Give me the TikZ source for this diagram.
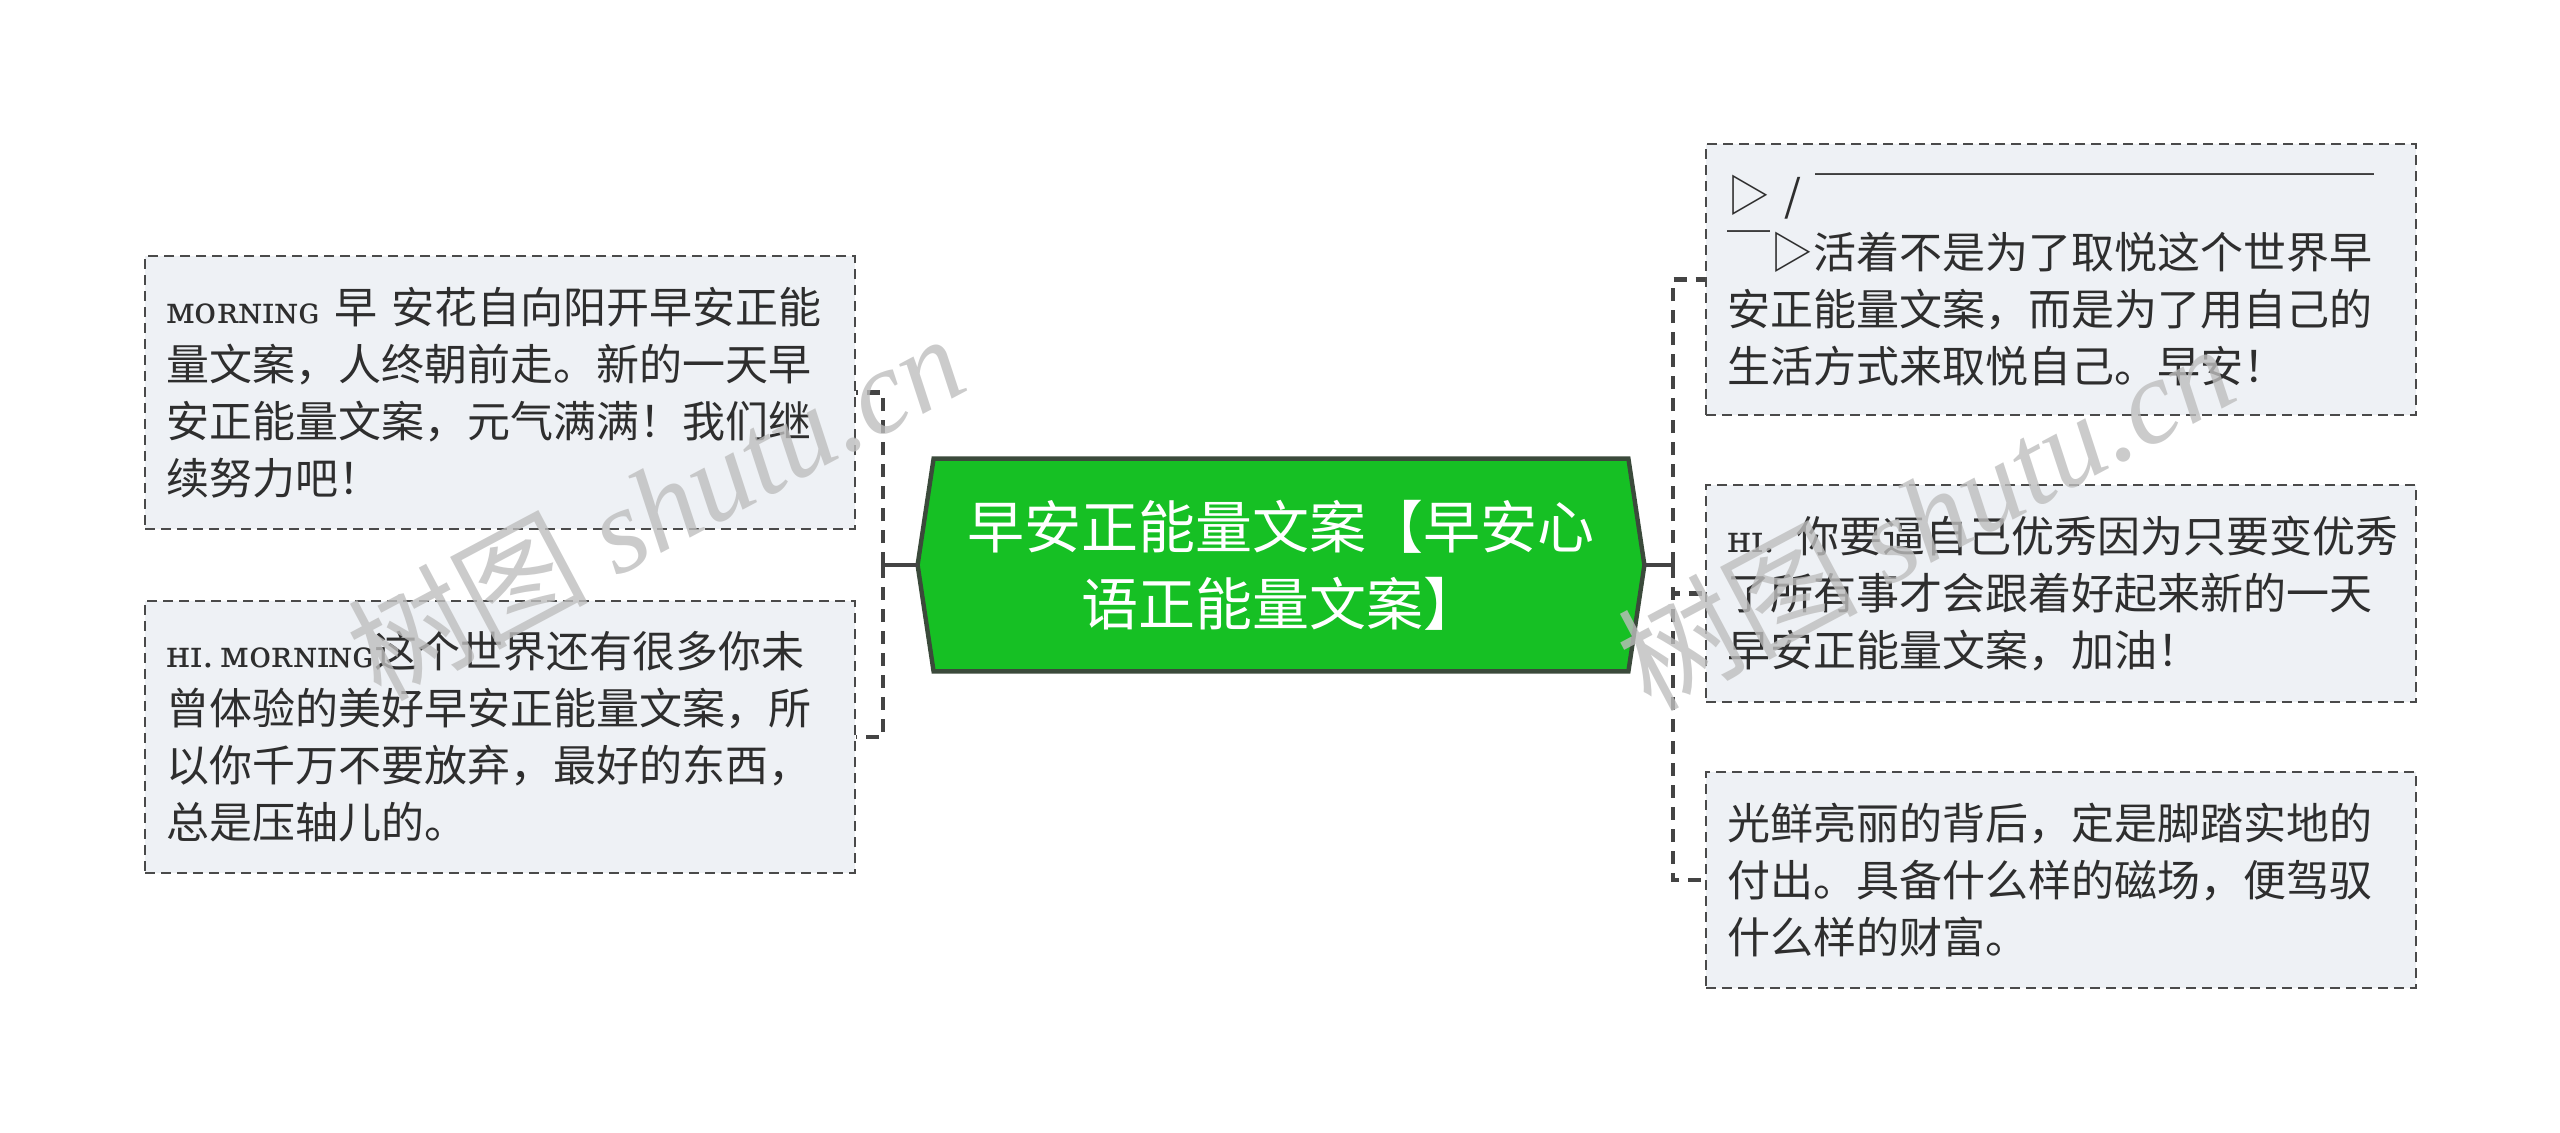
\documentclass[tikz,border=0pt]{standalone}
\usepackage{fontspec}
\setmainfont{Noto Sans CJK SC}
\newfontfamily\smcapfont{DejaVu Serif}
\newfontfamily\wmserif{Liberation Serif}
\usetikzlibrary{calc}
\definecolor{txt}{HTML}{2E2E2E}
\definecolor{boxfill}{HTML}{EEF1F5}
\definecolor{boxline}{HTML}{4A4A4A}
\definecolor{connline}{HTML}{444444}
\definecolor{rootfill}{HTML}{16C024}
\definecolor{rootline}{HTML}{3B4A3B}
\definecolor{wm}{HTML}{BEBEBE}
\newcommand{\sm}[1]{{\smcapfont\fontsize{18.5pt}{28.5pt}\selectfont #1}}
\hfuzz=50pt
\tikzset{
  leaf/.style={draw=boxline, fill=boxfill, line width=1.2pt, dash pattern=on 5pt off 3pt,
    rectangle, minimum width=355pt, text width=334pt, inner xsep=10.5pt, inner ysep=0pt,
    align=left, text=txt, font=\fontsize{21.5pt}{28.5pt}\selectfont, anchor=west},
  roottext/.style={minimum width=363pt, minimum height=106pt, inner sep=0pt,
    align=center, text=white, font=\fontsize{28.5pt}{38.5pt}\selectfont},
  hexa/.style={fill=rootfill, draw=rootline, line width=2.2pt, line join=miter},
  conn/.style={draw=connline, line width=2.4pt, dash pattern=on 6.5pt off 4.5pt},
  solidconn/.style={draw=connline, line width=2.4pt},
  watermark/.style={text=wm, opacity=0.8, rotate=28, font=\fontsize{60pt}{60pt}\selectfont}
}
\begin{document}
\begin{tikzpicture}[x=0.5pt, y=-0.5pt]
\useasboundingbox (0,0) rectangle (2560,1132);

% root
\node[roottext] (root) at (1281,565) {};
\draw[hexa] (root.west) -- ($(root.north west)+(16,0)$) -- ($(root.north east)+(-16,0)$)
  -- (root.east) -- ($(root.south east)+(-16,0)$) -- ($(root.south west)+(16,0)$) -- cycle;
\node[roottext] (roottxt) at (root.center) {早安正能量文案【早安心\\语正能量文案】};

% left leaves
\node[leaf, minimum height=136.5pt] (L1) at (144,392.5) {\mbox{\sm{ᴍᴏʀɴɪɴɢ} 早 安花自向阳开早安正能}\\量文案，人终朝前走。新的一天早\\安正能量文案，元气满满！我们继\\续努力吧！};
\node[leaf, minimum height=136pt] (L2) at (144,737) {\mbox{\sm{ʜɪ.\,ᴍᴏʀɴɪɴɢ}这个世界还有很多你未}\\曾体验的美好早安正能量文案，所\\以你千万不要放弃，最好的东西，\\总是压轴儿的。};

% right leaves
\node[leaf, minimum height=135.5pt] (R1) at (1705,279.5) {\mbox{▷ / ￣￣￣￣￣￣￣￣￣￣￣￣￣}\\￣▷活着不是为了取悦这个世界早\\安正能量文案，而是为了用自己的\\生活方式来取悦自己。早安！};
\node[leaf, minimum height=108.5pt] (R2) at (1705,593.5) {\mbox{\sm{ʜɪ.} 你要逼自己优秀因为只要变优秀}\\了所有事才会跟着好起来新的一天\\早安正能量文案，加油！};
\node[leaf, minimum height=108pt] (R3) at (1705,880) {光鲜亮丽的背后，定是脚踏实地的\\付出。具备什么样的磁场，便驾驭\\什么样的财富。};

% connectors
\coordinate (jl) at (883,565);
\coordinate (jr) at (1673,565);
\draw[solidconn] (root.west) -- (jl);
\draw[solidconn] (root.east) -- (jr);
\draw[conn] (jl) |- (L1.east);
\draw[conn] (jl) |- (L2.east);
\draw[conn] (jr) |- (R1.west);
\draw[conn] (jr) |- (R2.west);
\draw[conn] (jr) |- (R3.west);

% watermarks
\node[watermark] (wm1) at (655,505) {树图 {\wmserif\itshape shutu.cn}};
\node[watermark] (wm2) at (1925,515) {树图 {\wmserif\itshape shutu.cn}};
\end{tikzpicture}
\end{document}
